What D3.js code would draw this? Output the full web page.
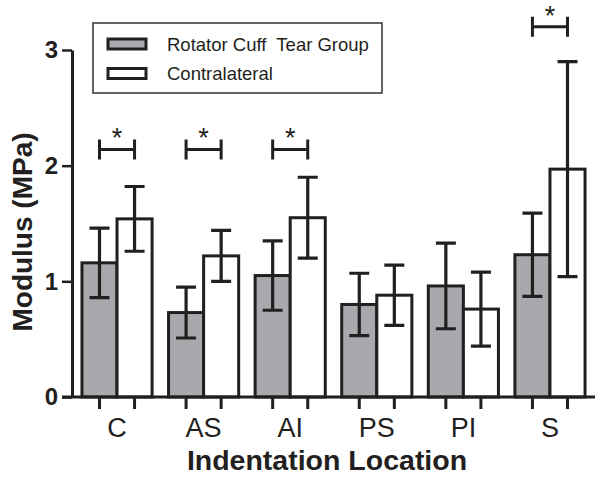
<!DOCTYPE html>
<html><head><meta charset="utf-8">
<script src="https://cdn.jsdelivr.net/npm/d3@7"></script>
<style>body{margin:0;background:#fff}svg{display:block}text{font-family:Arial,"Liberation Sans",sans-serif}</style>
</head><body>
<script>
const categories = ["C","AS","AI","PS","PI","S"];
const seriesNames = ["Rotator Cuff  Tear Group","Contralateral"];
const tearMeans = [1.16,0.73,1.05,0.80,0.96,1.23];
const tearSD = [0.30,0.22,0.30,0.27,0.37,0.36];
const contraMeans = [1.54,1.22,1.55,0.88,0.76,1.97];
const contraSD = [0.28,0.22,0.35,0.26,0.32,0.93];
const sigCategories = ["C","AS","AI","S"];
const sigLevels = [2.14,2.14,2.14,3.20];
const yTicks = [0,1,2,3];
const xTitle = "Indentation Location";
const yTitle = "Modulus (MPa)";

const W = 603, H = 479;
const ink = "#231f20", grayFill = "#a8a9ad";
const svg = d3.select("body").append("svg").attr("width", W).attr("height", H);

const y = d3.scaleLinear().domain([0,3]).range([397,50]);
const x0 = d3.scaleBand().domain(categories).range([72,595]).paddingInner(0.19).paddingOuter(0.115);
const x1 = d3.scaleBand().domain([0,1]).range([0, x0.bandwidth()]);

const rows = categories.map((c,i)=>({c, vals:[
  {s:0, m:tearMeans[i], sd:tearSD[i]},
  {s:1, m:contraMeans[i], sd:contraSD[i]}]}));
const fills = [grayFill, "#fff"];

const g = svg.append("g");
const grp = g.selectAll("g.grp").data(rows).join("g")
  .attr("transform", d=>`translate(${x0(d.c)},0)`);
grp.selectAll("rect").data(d=>d.vals).join("rect")
  .attr("x", d=>x1(d.s)).attr("width", x1.bandwidth())
  .attr("y", d=>y(d.m)).attr("height", d=>y(0)-y(d.m))
  .attr("fill", d=>fills[d.s]).attr("stroke", ink).attr("stroke-width", 3);
// error bars
const cap = 10;
grp.selectAll("path.err").data(d=>d.vals).join("path").attr("class","err")
  .attr("d", d=>{const cx = x1(d.s)+x1.bandwidth()/2, t=y(d.m+d.sd), b=y(d.m-d.sd);
    return `M${cx},${t}V${b}M${cx-cap},${t}H${cx+cap}M${cx-cap},${b}H${cx+cap}`;})
  .attr("fill","none").attr("stroke", ink).attr("stroke-width", 3.2);

// y axis
const ya = svg.append("g").attr("transform","translate(72,0)")
  .call(d3.axisLeft(y).tickValues(yTicks).tickFormat(d3.format("d")).tickSize(10).tickSizeOuter(0));
ya.select(".domain").attr("stroke", ink).attr("stroke-width", 3);
ya.selectAll(".tick line").attr("stroke", ink).attr("stroke-width", 2.5);
ya.selectAll(".tick text").attr("font-size", 24).attr("font-weight","bold").attr("fill", ink)
  .attr("font-family","Arial, Liberation Sans, sans-serif").attr("x",-14);

// x axis
const xa = svg.append("g").attr("transform",`translate(0,${y(0)})`)
  .call(d3.axisBottom(x0).tickSize(0).tickSizeOuter(0));
xa.select(".domain").remove();
xa.append("line").attr("x1",62).attr("x2",595).attr("y1",0).attr("y2",0)
  .attr("stroke", ink).attr("stroke-width",3);
xa.selectAll(".tick text").attr("font-size", 27).attr("fill", ink)
  .attr("font-family","Arial, Liberation Sans, sans-serif").attr("y", 21);
const subTicks = [];
categories.forEach(c=>[0,1].forEach(s=>subTicks.push(x0(c)+x1(s)+x1.bandwidth()/2)));
xa.selectAll("line.sub").data(subTicks).join("line").attr("class","sub")
  .attr("x1",d=>d).attr("x2",d=>d).attr("y1",0).attr("y2",12)
  .attr("stroke", ink).attr("stroke-width",3);

// significance brackets
sigCategories.forEach((c,i)=>{
  const a = x0(c)+x1(0)+x1.bandwidth()/2, b = x0(c)+x1(1)+x1.bandwidth()/2, yy = y(sigLevels[i]);
  svg.append("path").attr("d",`M${a},${yy-10}V${yy+10}M${b},${yy-10}V${yy+10}M${a},${yy}H${b}`)
    .attr("fill","none").attr("stroke", ink).attr("stroke-width",3);
  svg.append("text").attr("x",(a+b)/2).attr("y",yy-2).attr("text-anchor","middle")
    .attr("font-size",27).attr("fill",ink).text("*");
});

// axis titles
svg.append("text").attr("x",327).attr("y",470).attr("text-anchor","middle")
  .attr("font-size",28.5).attr("font-weight","bold").attr("fill",ink).text(xTitle);
svg.append("text").attr("transform","translate(32,232) rotate(-90)").attr("text-anchor","middle")
  .attr("font-size",28).attr("font-weight","bold").attr("fill",ink).text(yTitle);

// legend
const lg = svg.append("g");
lg.append("rect").attr("x",93).attr("y",23).attr("width",289).attr("height",70)
  .attr("fill","#fff").attr("stroke","#333").attr("stroke-width",1.5);
seriesNames.forEach((n,i)=>{
  const yy = 38 + i*29.5;
  lg.append("rect").attr("x",108).attr("y",yy+1).attr("width",38).attr("height",10)
    .attr("fill",fills[i]).attr("stroke",ink).attr("stroke-width",3);
  lg.append("text").attr("x",167).attr("y",yy+12.5).attr("font-size",18.5).attr("fill",ink)
    .style("white-space","pre").text(n);
});
</script>
</body></html>
